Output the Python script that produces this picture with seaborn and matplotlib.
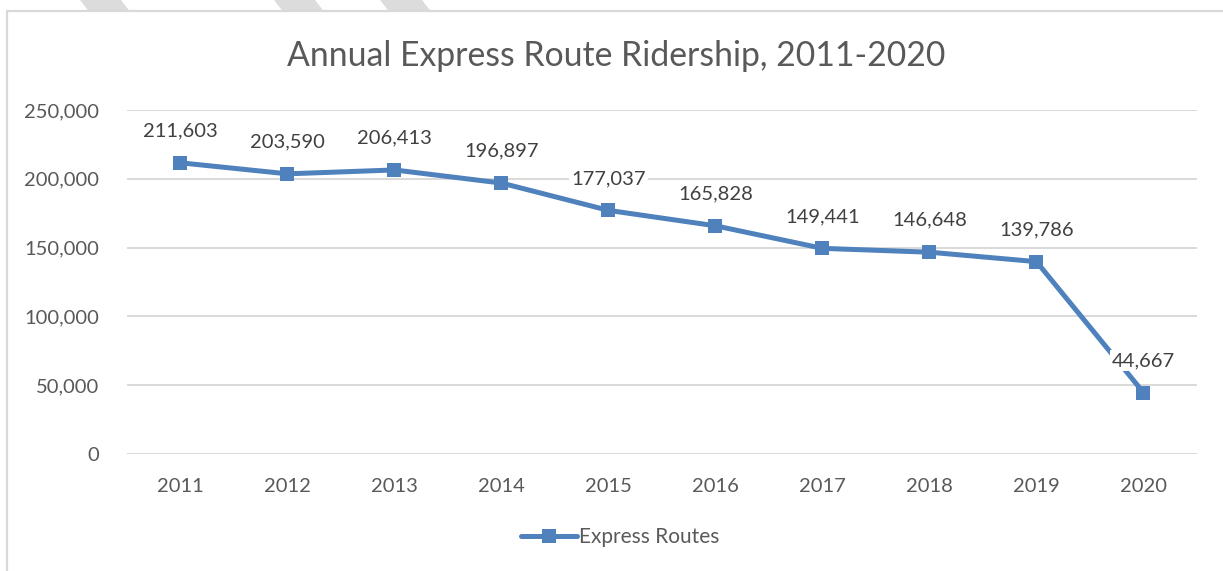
import matplotlib
matplotlib.use("Agg")
import matplotlib.pyplot as plt
import matplotlib.ticker as mticker
from matplotlib.patches import Polygon
from matplotlib.lines import Line2D
import seaborn as sns
import pandas as pd

years = [2011, 2012, 2013, 2014, 2015, 2016, 2017, 2018, 2019, 2020]
riders = [211603, 203590, 206413, 196897, 177037, 165828, 149441, 146648, 139786, 44667]
series_name = "Express Routes"
title = "Annual Express Route Ridership, 2011-2020"

df = pd.DataFrame({"year": years, "riders": riders})

blue = "#4F81BD"
grey_text = "#595959"
grid_col = "#D9D9D9"

sns.set_theme(style="white")
plt.rcParams["font.family"] = ["Lato", "DejaVu Sans"]

fig = plt.figure(figsize=(12.23, 5.71), dpi=100)
ax = fig.add_axes([0.1038, 0.2049, 0.8749, 0.6025])

# decorative frame and stripes from the screenshot
fig.add_artist(Line2D([0.0057, 0.0057, 1.0], [0.0, 0.9807, 0.9807], transform=fig.transFigure,
                      color=grid_col, lw=1.6))
for x0, x1 in [(80, 121), (274, 315), (380, 422)]:
    pts = [(x0 / 1223, 1.0), (x1 / 1223, 1.0), ((x1 + 8) / 1223, 0.982), ((x0 + 8) / 1223, 0.982)]
    fig.add_artist(Polygon(pts, closed=True, transform=fig.transFigure, color="#DCDCDC", lw=0))

sns.lineplot(data=df, x="year", y="riders", ax=ax, color=blue, linewidth=3.6,
             marker="s", markersize=10, markeredgewidth=0, label=series_name, zorder=3)

for yr, v in zip(years, riders):
    ax.annotate(f"{v:,}", (yr, v), xytext=(0, 23), textcoords="offset points",
                ha="center", va="center", fontsize=14.5, color="#404040", zorder=5,
                bbox=dict(boxstyle="square,pad=0.1", fc="white", ec="none"))

ax.set_xlim(2010.5, 2020.5)
ax.set_ylim(0, 250000)
ax.set_xticks(years)
ax.set_yticks(range(0, 250001, 50000))
ax.yaxis.set_major_formatter(mticker.FuncFormatter(lambda v, p: f"{int(v):,}"))
ax.tick_params(axis="both", length=0, labelsize=14.5, labelcolor=grey_text)
ax.tick_params(axis="x", pad=17)
ax.tick_params(axis="y", pad=20)
ax.grid(axis="y", color=grid_col, linewidth=1.4)
ax.set_axisbelow(True)
for s in ax.spines.values():
    s.set_visible(False)
ax.set_xlabel("")
ax.set_ylabel("")

fig.text(0.504, 0.902, title, ha="center", va="center", fontsize=24.3, color=grey_text)

ax.legend(loc="center", bbox_to_anchor=(0.507, 0.059), bbox_transform=fig.transFigure,
          frameon=False, fontsize=15, labelcolor=grey_text, handlelength=2.7, handletextpad=0.1)

fig.savefig("out.png", dpi=100)
